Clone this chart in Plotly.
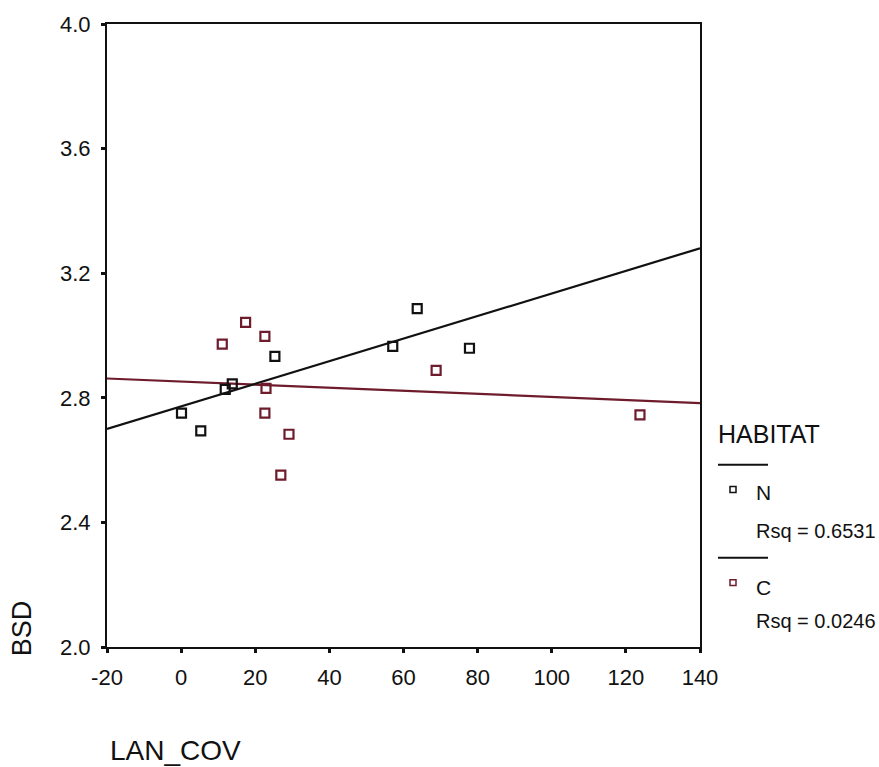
import plotly.graph_objects as go

# ---- data ----
n_x = [0.1, 5.3, 11.9, 13.8, 25.3, 57.1, 63.7, 77.8]
n_y = [2.751, 2.694, 2.827, 2.845, 2.933, 2.965, 3.086, 2.959]
c_x = [11.1, 17.4, 22.6, 22.9, 22.6, 29.1, 26.9, 68.8, 123.8]
c_y = [2.972, 3.042, 2.997, 2.830, 2.751, 2.683, 2.552, 2.888, 2.745]
fit_x = [-20, 140]
fit_n = [2.700, 3.280]
fit_c = [2.862, 2.783]
x_ticks = [-20, 0, 20, 40, 60, 80, 100, 120, 140]
y_ticks = [2.0, 2.4, 2.8, 3.2, 3.6, 4.0]
y_ticklabels = ["2.0", "2.4", "2.8", "3.2", "3.6", "4.0"]
groups = ["N", "C"]
rsq = ["Rsq = 0.6531", "Rsq = 0.0246"]
legend_title = "HABITAT"

BLACK = "#111111"
MAROON = "#6e1c2c"
FONT = "Liberation Sans, Arial, sans-serif"

W, H = 879, 767
L, R, T, B = 107, 700, 18, 647


def px_x(px):
    return (px - L) / (R - L)


def px_y(py):
    return (B - py) / (B - T)


fig = go.Figure()
fig.add_trace(go.Scatter(x=fit_x, y=fit_c, mode="lines",
                         line=dict(color=MAROON, width=2.2), showlegend=False))
fig.add_trace(go.Scatter(x=fit_x, y=fit_n, mode="lines",
                         line=dict(color=BLACK, width=2.2), showlegend=False))
fig.add_trace(go.Scatter(x=n_x, y=n_y, mode="markers", showlegend=False,
                         marker=dict(symbol="square-open", size=9,
                                     color=BLACK, line=dict(width=2.2, color=BLACK))))
fig.add_trace(go.Scatter(x=c_x, y=c_y, mode="markers", showlegend=False,
                         marker=dict(symbol="square-open", size=9,
                                     color=MAROON, line=dict(width=2.2, color=MAROON))))

axis_common = dict(showline=True, linecolor=BLACK, linewidth=2, mirror=True,
                   showgrid=False, zeroline=False, ticks="outside",
                   ticklen=4, tickwidth=3, tickcolor=BLACK,
                   tickfont=dict(family=FONT, size=22, color=BLACK))

fig.update_xaxes(range=[-20, 140], tickvals=x_ticks,
                 ticktext=[str(v) for v in x_ticks],
                 ticklabelstandoff=6, **axis_common)
fig.update_yaxes(range=[2.0, 4.0], tickvals=y_ticks, ticktext=y_ticklabels,
                 ticklabelstandoff=6, **axis_common)

annotations = [
    dict(text="BSD", x=px_x(22), y=px_y(628), textangle=-90,
         font=dict(family=FONT, size=27, color=BLACK)),
    dict(text="LAN_COV", x=px_x(108), y=px_y(751), xanchor="left",
         font=dict(family=FONT, size=28, color=BLACK)),
    dict(text=legend_title, x=px_x(716), y=px_y(432), xanchor="left",
         font=dict(family=FONT, size=25, color=BLACK)),
    dict(text=groups[0], x=px_x(754), y=px_y(491), xanchor="left",
         font=dict(family=FONT, size=21, color=BLACK)),
    dict(text=rsq[0], x=px_x(754), y=px_y(530), xanchor="left",
         font=dict(family=FONT, size=20, color=BLACK)),
    dict(text=groups[1], x=px_x(754), y=px_y(587), xanchor="left",
         font=dict(family=FONT, size=21, color=BLACK)),
    dict(text=rsq[1], x=px_x(754), y=px_y(621), xanchor="left",
         font=dict(family=FONT, size=20, color=BLACK)),
]
for a in annotations:
    a.update(xref="paper", yref="paper", showarrow=False, yanchor="middle")
    a.setdefault("xanchor", "center")

shapes = [
    dict(type="line", x0=px_x(718), x1=px_x(768), y0=px_y(463), y1=px_y(463),
         line=dict(color=BLACK, width=2)),
    dict(type="line", x0=px_x(718), x1=px_x(768), y0=px_y(557), y1=px_y(557),
         line=dict(color=BLACK, width=2)),
    dict(type="rect", x0=px_x(730), x1=px_x(736), y0=px_y(485), y1=px_y(491),
         line=dict(color=BLACK, width=1.5)),
    dict(type="rect", x0=px_x(730), x1=px_x(736), y0=px_y(579), y1=px_y(585),
         line=dict(color=MAROON, width=1.5)),
]
for s in shapes:
    s.update(xref="paper", yref="paper")

fig.update_layout(width=W, height=H, margin=dict(l=L, r=W - R, t=T, b=H - B),
                  paper_bgcolor="white", plot_bgcolor="white",
                  annotations=annotations, shapes=shapes, showlegend=False)

fig.write_html("out.html")
